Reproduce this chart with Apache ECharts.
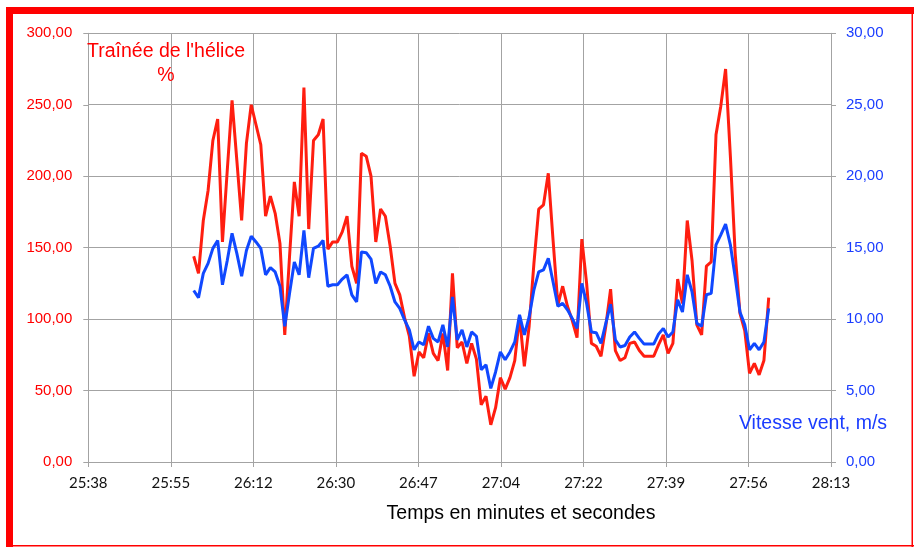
<!DOCTYPE html>
<html>
<head>
<meta charset="utf-8">
<script src="https://cdn.jsdelivr.net/npm/echarts@6/dist/echarts.min.js"></script>
<style>
	html, body { margin: 0; padding: 0; background: #fff; }
	#chart { width: 914px; height: 547px; }
</style>
</head>
<body>
<div id="chart"></div>
<script>
	// temps en secondes depuis 25:38, un point par seconde
	var startSec = 22;
	var axisSpan = 155;
	var xTickLabels = ['25:38', '25:55', '26:12', '26:30', '26:47', '27:04', '27:22', '27:39', '27:56', '28:13'];
	var leftTickLabels = ['0,00', '50,00', '100,00', '150,00', '200,00', '250,00', '300,00'];
	var rightTickLabels = ['0,00', '5,00', '10,00', '15,00', '20,00', '25,00', '30,00'];

	// Traînée de l'hélice (%)
	var trainee = [
		144, 132, 169, 190, 225, 240, 154, 204, 253, 211, 169, 223, 250, 236, 222, 172, 186, 174, 153, 89,
		144, 196, 172, 262, 163, 225, 229, 240, 149, 154, 154, 161, 172, 137, 125, 216, 214, 200, 154, 177,
		172, 151, 125, 117, 101, 88, 60, 77, 73, 90, 76, 71, 90, 64, 132, 80, 84, 69, 83, 72,
		40, 46, 26, 38, 59, 51, 59, 71, 102, 67, 95, 139, 177, 180, 202, 155, 110, 123, 109, 99,
		87, 156, 125, 83, 81, 74, 95, 121, 78, 71, 73, 83, 84, 78, 74, 74, 74, 82, 89, 76,
		83, 128, 111, 169, 141, 96, 89, 137, 140, 229, 249, 275, 214, 146, 104, 92, 62, 69, 61, 71, 115
	];
	// Vitesse vent (m/s)
	var vent = [
		12.0, 11.5, 13.2, 13.9, 14.95, 15.5, 12.4, 14.1, 16.0, 14.6, 13.0, 14.8, 15.8, 15.4, 14.95, 13.1, 13.6, 13.3, 12.3, 9.5,
		11.8, 14.0, 13.1, 16.2, 12.9, 14.95, 15.1, 15.5, 12.3, 12.4, 12.4, 12.8, 13.1, 11.7, 11.2, 14.7, 14.65, 14.2, 12.5, 13.3,
		13.1, 12.3, 11.2, 10.75, 9.95, 9.25, 7.85, 8.4, 8.2, 9.5, 8.65, 8.4, 9.6, 8.05, 11.55, 8.55, 9.25, 8.05, 9.1, 8.8,
		6.45, 6.8, 5.15, 6.3, 7.7, 7.15, 7.7, 8.4, 10.3, 8.9, 10.15, 12.05, 13.3, 13.45, 14.25, 12.6, 10.9, 11.1, 10.65, 10.05,
		9.35, 12.5, 11.1, 9.1, 9.05, 8.3, 9.7, 11.05, 8.55, 8.05, 8.15, 8.75, 9.1, 8.65, 8.25, 8.25, 8.25, 8.95, 9.35, 8.75,
		9.1, 11.35, 10.5, 13.1, 11.9, 9.7, 9.5, 11.7, 11.8, 15.2, 15.9, 16.65, 15.2, 12.95, 10.5, 9.6, 7.85, 8.3, 7.85, 8.4, 10.75
	];

	var xStep = axisSpan / (xTickLabels.length - 1);
	function toPairs(arr) {
		return arr.map(function(v, i) { return [startSec + i, v]; });
	}

	var gridColor = '#a3a3a3';
	var chart = echarts.init(document.getElementById('chart'));
	chart.setOption({
		animation: false,
		backgroundColor: '#fff',
		grid: { left: 88.3, right: 83, top: 33.3, bottom: 85, outerBoundsMode: 'none' },
		xAxis: {
			type: 'value',
			min: 0,
			max: axisSpan,
			interval: xStep,
			axisLine: { show: true, lineStyle: { color: gridColor } },
			axisTick: { show: true, length: 5, lineStyle: { color: gridColor } },
			axisLabel: {
				margin: 14,
				color: '#111',
				fontFamily: 'Lato',
				fontSize: 15,
				formatter: function(v) { return xTickLabels[Math.round(v / xStep)]; }
			},
			splitLine: { show: true, lineStyle: { color: gridColor } }
		},
		yAxis: [{
			type: 'value',
			position: 'left',
			min: 0,
			max: 300,
			interval: 50,
			axisLine: { show: true, lineStyle: { color: gridColor } },
			axisTick: { show: true, length: 5, lineStyle: { color: gridColor } },
			axisLabel: {
				margin: 16,
				color: '#ff0000',
				fontFamily: 'Liberation Sans',
				fontSize: 15,
				formatter: function(v) { return leftTickLabels[Math.round(v / 50)]; }
			},
			splitLine: { show: true, lineStyle: { color: gridColor } }
		}, {
			type: 'value',
			position: 'right',
			min: 0,
			max: 30,
			interval: 5,
			axisLine: { show: true, lineStyle: { color: gridColor } },
			axisTick: { show: true, length: 5, lineStyle: { color: gridColor } },
			axisLabel: {
				margin: 15,
				color: '#1a3cff',
				fontFamily: 'Liberation Sans',
				fontSize: 15,
				formatter: function(v) { return rightTickLabels[Math.round(v / 5)]; }
			},
			splitLine: { show: false }
		}],
		series: [{
			name: "Traînée de l'hélice",
			type: 'line',
			yAxisIndex: 0,
			symbol: 'none',
			lineStyle: { color: '#ff1e10', width: 3 },
			data: toPairs(trainee)
		}, {
			name: 'Vitesse vent',
			type: 'line',
			yAxisIndex: 1,
			symbol: 'none',
			lineStyle: { color: '#1048ff', width: 3 },
			data: toPairs(vent)
		}],
		graphic: [
			// cadre rouge
			{ type: 'rect', shape: { x: 6, y: 7, width: 908, height: 7 }, style: { fill: '#ff0000' } },
			{ type: 'rect', shape: { x: 6, y: 7, width: 7, height: 540 }, style: { fill: '#ff0000' } },
			{ type: 'rect', shape: { x: 911.5, y: 7, width: 1.5, height: 540 }, style: { fill: '#ff0000' } },
			{ type: 'rect', shape: { x: 6, y: 545, width: 908, height: 1.5 }, style: { fill: '#ff0000' } },
			{
				type: 'text', z: 10,
				style: {
					text: "Traînée de l'hélice\n%", fill: '#ff0000', font: '19.5px "Liberation Sans"',
					x: 166, y: 40, align: 'center', verticalAlign: 'top', lineHeight: 24
				}
			},
			{
				type: 'text', z: 10,
				style: {
					text: 'Vitesse vent, m/s', fill: '#1a3cff', font: '19.5px "Liberation Sans"',
					x: 813, y: 424, align: 'center', verticalAlign: 'middle'
				}
			},
			{
				type: 'text', z: 10,
				style: {
					text: 'Temps en minutes et secondes', fill: '#000', font: '19.5px "Liberation Sans"',
					x: 521, y: 514, align: 'center', verticalAlign: 'middle'
				}
			}
		]
	});
</script>
</body>
</html>
